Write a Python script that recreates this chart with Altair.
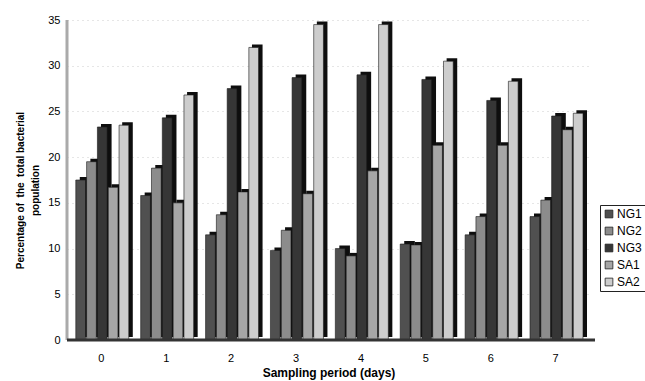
import altair as alt
import pandas as pd

days = ["0", "1", "2", "3", "4", "5", "6", "7"]
series = ["NG1", "NG2", "NG3", "SA1", "SA2"]
NG1 = [17.5, 15.8, 11.5, 9.8, 10.0, 10.5, 11.5, 13.5]
NG2 = [19.5, 18.8, 13.7, 12.0, 9.2, 10.4, 13.5, 15.3]
NG3 = [23.3, 24.3, 27.5, 28.7, 29.0, 28.5, 26.2, 24.5]
SA1 = [16.7, 15.0, 16.2, 16.0, 18.5, 21.3, 21.3, 23.0]
SA2 = [23.5, 26.8, 32.0, 34.5, 34.5, 30.5, 28.3, 24.8]
colors = ["#505050", "#8c8c8c", "#363636", "#a6a6a6", "#cdcdcd"]

vals = {"NG1": NG1, "NG2": NG2, "NG3": NG3, "SA1": SA1, "SA2": SA2}
rows = []
for s in series:
    for d, v in zip(days, vals[s]):
        rows.append({"day": d, "series": s, "value": v})
df = pd.DataFrame(rows)

FONT = "Liberation Sans"
xenc = alt.X("day:N", sort=days, title="Sampling period (days)",
             scale=alt.Scale(paddingInner=0.18, paddingOuter=0.12),
             axis=alt.Axis(labelAngle=0, labelFontSize=11, labelPadding=12,
                           ticks=False, domain=False, titleFontSize=12,
                           titleFontWeight="bold", titlePadding=4,
                           labelFont=FONT, titleFont=FONT))
yenc = alt.Y("value:Q",
             title=["Percentage of\u00a0 the\u00a0 total bacterial", "population"],
             scale=alt.Scale(domain=[0, 35], nice=False),
             axis=alt.Axis(values=[0, 5, 10, 15, 20, 25, 30, 35], labelFontSize=11,
                           ticks=False, domain=False, grid=True, gridColor="#cccccc",
                           gridDash=[1, 4], labelPadding=7, titleFontSize=10,
                           titleFontWeight="bold", titlePadding=7, titleY=170,
                           titleLineHeight=15,
                           labelFont=FONT, titleFont=FONT))

shadow = alt.Chart(df).mark_bar(color="#0e0e0e", yOffset=-3).encode(
    x=xenc, y=yenc,
    xOffset=alt.XOffset("series:N", sort=series,
                        scale=alt.Scale(range=[5, 58], paddingInner=0)),
)
front = alt.Chart(df).mark_bar(stroke="#1a1a1a", strokeWidth=0.6).encode(
    x=xenc, y=yenc,
    xOffset=alt.XOffset("series:N", sort=series,
                        scale=alt.Scale(range=[1, 54], paddingInner=0.1)),
    color=alt.Color("series:N", sort=series,
                    scale=alt.Scale(domain=series, range=colors),
                    legend=alt.Legend(title=None, orient="none", legendX=533, legendY=185,
                                      symbolType="square", symbolSize=60,
                                      symbolStrokeColor="#222", symbolStrokeWidth=0.8,
                                      labelFontSize=12, labelFont=FONT, labelOffset=2,
                                      strokeColor="#222", padding=3, rowPadding=5,
                                      fillColor="white"))
)

floor = alt.Chart(pd.DataFrame({"v": [0]})).mark_rule(color="#333333", strokeWidth=3).encode(
    y=alt.Y("v:Q", scale=alt.Scale(domain=[0, 35])),
    x=alt.value(0), x2=alt.value(528)
)
wall = alt.Chart(pd.DataFrame({"v": [0]})).mark_rule(color="#aaaaaa", strokeWidth=3).encode(
    x=alt.value(0), y=alt.value(0), y2=alt.value(320)
)

chart = alt.layer(wall, shadow, front, floor).resolve_scale(
    xOffset="independent"
).properties(
    width=523, height=320,
    autosize=alt.AutoSizeParams(type="none"),
    padding={"left": 67, "top": 20, "right": 55, "bottom": 41},
    background="white",
).configure_view(stroke=None)

chart.save("out.html", embed_options={"renderer": "svg", "actions": False})
